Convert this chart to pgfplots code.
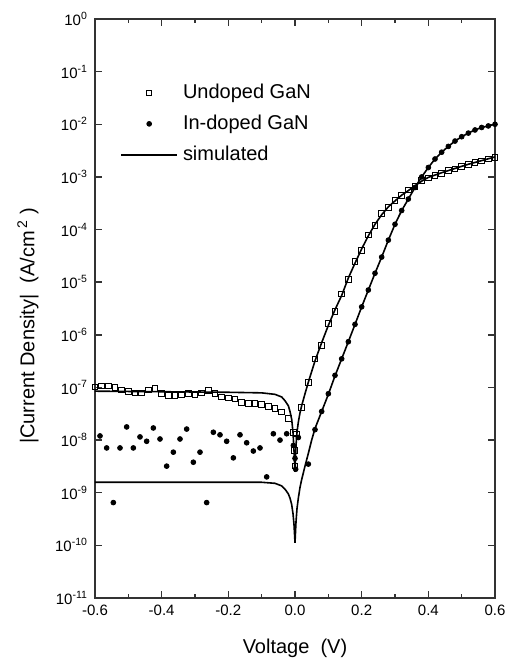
\documentclass[border=0pt]{standalone}
\usepackage{fontspec}
\setmainfont{Liberation Sans}
\usepackage{pgfplots}
\pgfplotsset{compat=1.18}

\pgfplotsset{
  markleg/.style={legend image code/.code={\draw[##1] plot coordinates {(14pt,0pt)};}},
  lineleg/.style={legend image code/.code={\draw[##1] (0pt,0pt) -- (28pt,0pt);}},
}

% undoped GaN, measured
\pgfplotstableread{
V J
-0.60 1.02e-7
-0.58 1.07e-7
-0.56 1.07e-7
-0.54 1.00e-7
-0.52 8.9e-8
-0.50 8.3e-8
-0.48 7.9e-8
-0.46 7.9e-8
-0.44 8.9e-8
-0.42 9.5e-8
-0.40 7.6e-8
-0.38 7.1e-8
-0.36 7.1e-8
-0.34 7.2e-8
-0.32 7.6e-8
-0.30 7.2e-8
-0.28 7.9e-8
-0.26 8.7e-8
-0.24 7.6e-8
-0.22 6.6e-8
-0.20 6.3e-8
-0.18 6.0e-8
-0.16 5.2e-8
-0.14 5.0e-8
-0.12 5.0e-8
-0.10 4.7e-8
-0.08 4.3e-8
-0.06 4.0e-8
-0.04 3.4e-8
-0.02 2.6e-8
-0.004 1.4e-8
-0.002 6.3e-9
0.000 3.2e-9
0.004 1.3e-8
0.02 4.2e-8
0.04 1.23e-7
0.06 3.5e-7
0.08 6.3e-7
0.10 1.66e-6
0.12 2.8e-6
0.14 6.0e-6
0.16 1.12e-5
0.18 2.5e-5
0.20 4.0e-5
0.22 7.9e-5
0.24 1.20e-4
0.26 2.0e-4
0.28 2.6e-4
0.30 3.6e-4
0.32 4.4e-4
0.34 5.6e-4
0.36 6.6e-4
0.38 8.5e-4
0.40 9.5e-4
0.42 1.07e-3
0.44 1.17e-3
0.46 1.32e-3
0.48 1.41e-3
0.50 1.58e-3
0.52 1.70e-3
0.54 1.86e-3
0.56 2.00e-3
0.58 2.19e-3
0.60 2.34e-3
}\undoped

% In-doped GaN, measured
\pgfplotstableread{
V J
-0.585 1.20e-8
-0.565 7.1e-9
-0.545 6.5e-10
-0.525 7.1e-9
-0.505 1.78e-8
-0.485 7.1e-9
-0.465 1.15e-8
-0.445 9.5e-9
-0.425 1.70e-8
-0.405 1.05e-8
-0.385 3.2e-9
-0.365 5.9e-9
-0.345 1.05e-8
-0.325 1.62e-8
-0.305 3.8e-9
-0.285 5.9e-9
-0.265 6.5e-10
-0.245 1.41e-8
-0.225 1.26e-8
-0.205 9.5e-9
-0.185 4.6e-9
-0.165 1.26e-8
-0.145 8.9e-9
-0.125 6.2e-9
-0.105 7.1e-9
-0.085 2.0e-9
-0.065 1.32e-8
-0.045 1.0e-8
-0.025 1.32e-8
-0.005 7.9e-9
0.000 4.5e-9
0.002 2.8e-9
0.010 1.12e-8
0.04 3.5e-9
0.06 1.58e-8
0.08 3.5e-8
0.10 7.6e-8
0.12 1.70e-7
0.14 3.5e-7
0.16 7.4e-7
0.18 1.58e-6
0.20 3.4e-6
0.22 7.1e-6
0.24 1.48e-5
0.26 3.0e-5
0.28 6.3e-5
0.30 1.26e-4
0.32 2.3e-4
0.34 3.8e-4
0.36 6.3e-4
0.38 1.0e-3
0.40 1.51e-3
0.42 2.19e-3
0.44 2.95e-3
0.46 3.8e-3
0.48 4.8e-3
0.50 5.8e-3
0.52 6.8e-3
0.54 7.8e-3
0.56 8.7e-3
0.58 9.3e-3
0.60 1.0e-2
}\indoped

% simulated, undoped
\pgfplotstableread{
V J
-0.60 8.5e-8
-0.40 8.3e-8
-0.20 8.1e-8
-0.10 7.9e-8
-0.06 7.4e-8
-0.04 6.6e-8
-0.03 5.6e-8
-0.02 4.5e-8
-0.015 3.5e-8
-0.01 2.5e-8
-0.006 1.41e-8
-0.003 6.3e-9
0.000 2.5e-9
0.003 7.9e-9
0.006 1.41e-8
0.01 2.2e-8
0.015 3.3e-8
0.02 4.5e-8
0.03 7.6e-8
0.04 1.26e-7
0.06 3.2e-7
0.08 7.1e-7
0.10 1.51e-6
0.12 3.0e-6
0.14 5.6e-6
0.16 1.20e-5
0.18 2.3e-5
0.20 4.3e-5
0.22 7.6e-5
0.24 1.26e-4
0.26 1.91e-4
0.28 2.7e-4
0.30 3.5e-4
0.32 4.5e-4
0.34 5.5e-4
0.36 6.8e-4
0.38 8.3e-4
0.40 9.8e-4
0.44 1.20e-3
0.48 1.45e-3
0.52 1.74e-3
0.56 2.04e-3
0.60 2.40e-3
}\simundoped

% simulated, In-doped
\pgfplotstableread{
V J
-0.60 1.58e-9
-0.10 1.58e-9
-0.06 1.51e-9
-0.04 1.35e-9
-0.03 1.17e-9
-0.02 9.5e-10
-0.015 7.9e-10
-0.01 6.0e-10
-0.006 4.0e-10
-0.003 2.5e-10
0.000 1.12e-10
0.003 2.8e-10
0.006 5.0e-10
0.01 7.9e-10
0.015 1.26e-9
0.02 1.78e-9
0.03 3.2e-9
0.04 5.6e-9
0.05 1.0e-8
0.06 1.66e-8
0.08 3.5e-8
0.10 7.4e-8
0.12 1.66e-7
0.14 3.5e-7
0.16 7.4e-7
0.18 1.58e-6
0.20 3.4e-6
0.22 7.1e-6
0.24 1.48e-5
0.26 3.0e-5
0.28 6.3e-5
0.30 1.26e-4
0.32 2.3e-4
0.34 3.8e-4
0.36 6.3e-4
0.38 1.0e-3
0.40 1.51e-3
0.42 2.19e-3
0.44 2.95e-3
0.46 3.8e-3
0.48 4.8e-3
0.50 5.8e-3
0.52 6.8e-3
0.54 7.8e-3
0.56 8.7e-3
0.58 9.3e-3
0.60 1.0e-2
}\simindoped

\begin{document}
\begin{tikzpicture}
\begin{axis}[name=ax,
  scale only axis, width=200pt, height=289.5pt,
  ymode=log, xmin=-0.6, xmax=0.6, ymin=1e-11, ymax=1,
  axis line style={black!80, line width=0.9pt},
  tick style={black!80, line width=0.7pt},
  tick align=inside, major tick length=3.5pt, minor tick length=2pt,
  xtick={-0.6,-0.4,-0.2,0,0.2,0.4,0.6},
  xticklabels={-0.6,-0.4,-0.2,0.0,0.2,0.4,0.6},
  minor xtick={-0.5,-0.3,-0.1,0.1,0.3,0.5},
  ytick={1e-11,1e-10,1e-9,1e-8,1e-7,1e-6,1e-5,1e-4,1e-3,1e-2,1e-1,1},
  yticklabels={10\textsuperscript{-11},10\textsuperscript{-10},10\textsuperscript{-9},10\textsuperscript{-8},10\textsuperscript{-7},10\textsuperscript{-6},10\textsuperscript{-5},10\textsuperscript{-4},10\textsuperscript{-3},10\textsuperscript{-2},10\textsuperscript{-1},10\textsuperscript{0}},
  yminorticks=false,
  tick label style={font=\fontsize{7.5}{8}\selectfont},
  label style={font=\fontsize{10}{12}\selectfont},
  xlabel={Voltage\ \ (V)},
  ylabel={|Current Density|\ \ (A/cm\textsuperscript{\,2}\ )},
  every axis x label/.style={at={(axis description cs:0.5,-0.0875)}, anchor=center},
  every axis y label/.style={at={(axis description cs:-0.1675,0.47)}, anchor=center, rotate=90},
  legend cell align=left,
  legend style={at={(axis description cs:0.0625,0.893)}, anchor=north west,
    draw=none, fill=none, inner sep=0pt, row sep=4pt, column sep=1.5pt,
    font=\fontsize{10}{12}\selectfont,
    nodes={inner sep=1pt, text height=7.5pt, text depth=2pt}},
]
\addplot[black, only marks, mark=square, mark size=1.4pt, line width=0.5pt, markleg]
  table[x=V, y=J] {\undoped};
\addlegendentry{Undoped GaN}
\addplot[black, only marks, mark=*, mark size=1.2pt, markleg]
  table[x=V, y=J] {\indoped};
\addlegendentry{In-doped GaN}
\addplot[black, line width=0.8pt, no marks, lineleg]
  table[x=V, y=J] {\simundoped};
\addlegendentry{simulated}
\addplot[black, line width=0.8pt, no marks, forget plot]
  table[x=V, y=J] {\simindoped};
\end{axis}
\pgfresetboundingbox
\path ([xshift=-47.5pt,yshift=-31pt]ax.south west) rectangle ([xshift=7.5pt,yshift=9.5pt]ax.north east);
\end{tikzpicture}
\end{document}
